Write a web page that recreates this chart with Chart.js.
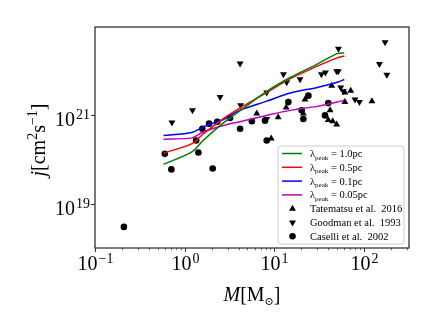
<!DOCTYPE html>
<html>
<head>
<meta charset="utf-8">
<script src="https://cdn.jsdelivr.net/npm/chart.js@4.4.0/dist/chart.umd.min.js"></script>
<style>
  html, body { margin: 0; padding: 0; background: #fff; }
  #grafico { display: block; }
</style>
</head>
<body>
<canvas id="grafico" width="436" height="327"></canvas>
<script>
// curvas do modelo (massa em Msun, j em cm^2 s^-1)
const massaModelo = [0.58, 1.2, 1.6, 2.7, 4.1, 8.2, 15, 30, 50, 60];
const jPeak10 = [7.8e19, 1.5e20, 2.7e20, 6.8e20, 1.26e21, 3.5e21, 7.2e21, 1.45e22, 2.5e22, 2.6e22];
const jPeak05 = [1.4e20, 2.3e20, 3.8e20, 8.5e20, 1.45e21, 3.3e21, 6.8e21, 1.3e22, 2.0e22, 2.2e22];
const jPeak01 = [3.5e20, 4.1e20, 5.5e20, 8.1e20, 1.3e21, 2.1e21, 3.2e21, 4.3e21, 5.6e21, 6.5e21];
const jPeak005 = [2.9e20, 3.1e20, 4.2e20, 5.9e20, 7.2e20, 1.0e21, 1.3e21, 1.6e21, 2.0e21, 2.2e21];

// observacoes
const tatematsuM = [6.35, 9.2, 11.0, 13.5, 21, 21.9, 39.8, 41.7, 43.5, 44.6, 49.4, 61, 61, 70.8, 122];
const tatematsuJ = [1.1e21, 3.0e20, 9.1e20, 1.5e21, 1.1e21, 2.3e21, 7.9e20, 1.3e21, 4.7e21, 7.4e20, 6.2e20, 3.3e21, 2.0e21, 3.6e21, 2.1e21];

const goodmanM = [0.72, 1.22, 2.48, 4.2, 4.14, 8.2, 8.2, 12.6, 13.7, 19.3, 33.4, 37, 49.4, 51.5, 51.7, 54.8, 58.6, 79, 88.5, 148, 171, 179];
const goodmanJ = [6.9e20, 1.3e21, 2.6e21, 1.7e21, 1.5e22, 8.3e20, 3.3e21, 8.5e21, 5.6e21, 6.6e21, 8.5e21, 9.3e21, 1.0e22, 1.0e22, 3.2e22, 4.3e21, 3.5e21, 2.3e21, 2.0e21, 1.45e22, 4.5e22, 8.3e21];

const caselliM = [0.21, 0.60, 0.71, 1.34, 1.42, 1.57, 1.87, 2.05, 2.31, 3.2, 4.14, 5.6, 7.85, 8.2, 14.3, 20.1, 21, 23.9, 36.6, 39.8];
const caselliJ = [3.0e18, 1.35e20, 6.0e19, 2.7e20, 1.45e20, 5.0e20, 6.5e20, 6.3e19, 7.2e20, 8.7e20, 5.0e20, 7.4e20, 7.6e20, 2.7e20, 2.0e21, 1.3e21, 8.3e20, 2.8e21, 1.0e21, 1.9e21];

// ticks
const decadasX = [0.1, 1, 10, 100];
const menoresX = [0.2, 0.3, 0.4, 0.5, 0.6, 0.7, 0.8, 0.9, 2, 3, 4, 5, 6, 7, 8, 9, 20, 30, 40, 50, 60, 70, 80, 90, 200, 300];
const decadasY = [1e19, 1e21];

const paleta = {
    verde: '#008000',
    vermelho: '#ff0000',
    azul: '#0000ff',
    magenta: '#bf00bf',
    preto: '#000000'
};

const fonte = "'Liberation Serif', 'DejaVu Serif', serif";

function pares(xs, ys) {
    return xs.map((x, i) => ({ x: x, y: ys[i] }));
}

function expoente(v) {
    const e = Math.round(Math.log10(v));
    return e < 0 ? '\u2212' + (-e) : String(e);
}

function potencia(ctx, exp, x, y, alinhar) {
    ctx.font = '20px ' + fonte;
    const wb = ctx.measureText('10').width;
    ctx.font = '14px ' + fonte;
    const we = ctx.measureText(exp).width;
    const x0 = alinhar === 'right' ? x - wb - we - 1 : x - (wb + we + 1) / 2;
    ctx.textAlign = 'left';
    ctx.textBaseline = 'alphabetic';
    ctx.font = '20px ' + fonte;
    ctx.fillText('10', x0, y);
    ctx.font = '14px ' + fonte;
    ctx.fillText(exp, x0 + wb + 1, y - 7);
}

// escreve pedacos de texto com fontes diferentes
function pedacos(ctx, partes, x, y) {
    let cx = x;
    partes.forEach(p => {
        ctx.font = p.f;
        ctx.fillText(p.t, cx, y + (p.dy || 0));
        cx += ctx.measureText(p.t).width;
    });
    return cx - x;
}

function largura(ctx, partes) {
    let w = 0;
    partes.forEach(p => { ctx.font = p.f; w += ctx.measureText(p.t).width; });
    return w;
}

const decoracao = {
    id: 'decoracao',
    afterDraw(chart) {
        const ctx = chart.ctx;
        const a = chart.chartArea;
        const sx = chart.scales.x;
        const sy = chart.scales.y;
        ctx.save();
        ctx.fillStyle = '#000';
        ctx.strokeStyle = '#333';

        // moldura
        ctx.lineWidth = 1.3;
        ctx.strokeRect(a.left, a.top, a.right - a.left, a.bottom - a.top);

        // ticks x
        ctx.lineWidth = 1;
        decadasX.forEach(v => {
            const px = Math.round(sx.getPixelForValue(v)) + 0.5;
            ctx.beginPath(); ctx.moveTo(px, a.bottom); ctx.lineTo(px, a.bottom + 4); ctx.stroke();
            potencia(ctx, expoente(v), px, a.bottom + 22, 'center');
        });
        ctx.lineWidth = 0.7;
        menoresX.forEach(v => {
            const px = Math.round(sx.getPixelForValue(v)) + 0.5;
            ctx.beginPath(); ctx.moveTo(px, a.bottom); ctx.lineTo(px, a.bottom + 2.2); ctx.stroke();
        });
        // ticks y
        ctx.lineWidth = 1;
        decadasY.forEach(v => {
            const py = Math.round(sy.getPixelForValue(v)) + 0.5;
            ctx.beginPath(); ctx.moveTo(a.left, py); ctx.lineTo(a.left - 4, py); ctx.stroke();
            potencia(ctx, expoente(v), a.left - 5, py + 10, 'right');
        });

        // titulos dos eixos
        ctx.textAlign = 'left';
        ctx.textBaseline = 'alphabetic';
        const tituloX = [
            { t: 'M', f: 'italic 20px ' + fonte },
            { t: '[M', f: '20px ' + fonte },
            { t: '\u2299', f: '11px ' + fonte, dy: 4 },
            { t: ']', f: '20px ' + fonte }
        ];
        const wx = largura(ctx, tituloX);
        pedacos(ctx, tituloX, (a.left + a.right) / 2 - wx / 2, 301);

        const tituloY = [
            { t: 'j', f: 'italic 20px ' + fonte },
            { t: '[cm', f: '20px ' + fonte },
            { t: '2', f: '14px ' + fonte, dy: -8 },
            { t: 's', f: '20px ' + fonte },
            { t: '\u22121', f: '14px ' + fonte, dy: -8 },
            { t: ']', f: '20px ' + fonte }
        ];
        const wy = largura(ctx, tituloY);
        ctx.save();
        ctx.translate(45, 140);
        ctx.rotate(-Math.PI / 2);
        pedacos(ctx, tituloY, -wy / 2, 0);
        ctx.restore();

        // legenda
        const lx = 278, ly = 146, lw = 126, lh = 98;
        ctx.beginPath();
        ctx.roundRect(lx, ly, lw, lh, 3);
        ctx.fillStyle = 'rgba(255,255,255,0.85)';
        ctx.fill();
        ctx.strokeStyle = '#cccccc';
        ctx.lineWidth = 1;
        ctx.stroke();

        const passo = 13.8;
        chart.data.datasets.forEach((ds, i) => {
            const cy = ly + 7.5 + i * passo;
            ctx.fillStyle = '#000';
            if (ds.showLine) {
                ctx.strokeStyle = ds.borderColor;
                ctx.lineWidth = 1.5;
                ctx.beginPath(); ctx.moveTo(282, cy); ctx.lineTo(302, cy); ctx.stroke();
                ctx.fillStyle = '#000';
                pedacos(ctx, [
                    { t: '\u03bb', f: '10.5px ' + fonte },
                    { t: 'peak', f: '7px ' + fonte, dy: 2.5 },
                    { t: ' = ' + ds.label, f: '10.5px ' + fonte }
                ], 310, cy + 3.5);
            } else {
                ctx.fillStyle = ds.backgroundColor;
                ctx.strokeStyle = ds.borderColor;
                Chart.helpers.drawPoint(ctx, {
                    pointStyle: ds.pointStyle,
                    rotation: ds.rotation || 0,
                    radius: ds.pointRadius,
                    borderWidth: 0
                }, 292.5, cy);
                ctx.fillStyle = '#000';
                pedacos(ctx, [{ t: ds.label, f: '10.5px ' + fonte }], 310, cy + 3.5);
            }
        });
        ctx.restore();
    }
};

const linha = { showLine: true, borderWidth: 1.5, pointRadius: 0, tension: 0.3 };
const marca = { borderWidth: 0, backgroundColor: paleta.preto, borderColor: paleta.preto };

new Chart(document.getElementById('grafico'), {
    type: 'scatter',
    data: {
        datasets: [
            { ...linha, label: '1.0pc', data: pares(massaModelo, jPeak10), borderColor: paleta.verde },
            { ...linha, label: '0.5pc', data: pares(massaModelo, jPeak05), borderColor: paleta.vermelho },
            { ...linha, label: '0.1pc', data: pares(massaModelo, jPeak01), borderColor: paleta.azul },
            { ...linha, label: '0.05pc', data: pares(massaModelo, jPeak005), borderColor: paleta.magenta },
            { ...marca, label: 'Tatematsu et al.  2016', data: pares(tatematsuM, tatematsuJ), pointStyle: 'triangle', pointRadius: 4 },
            { ...marca, label: 'Goodman et al.  1993', data: pares(goodmanM, goodmanJ), pointStyle: 'triangle', rotation: 180, pointRotation: 180, pointRadius: 4 },
            { ...marca, label: 'Caselli et al.  2002', data: pares(caselliM, caselliJ), pointStyle: 'circle', pointRadius: 3.3 }
        ]
    },
    options: {
        responsive: false,
        animation: false,
        events: [],
        layout: { padding: { top: 27, right: 27, left: 0, bottom: 0 } },
        plugins: {
            legend: { display: false },
            tooltip: { enabled: false }
        },
        scales: {
            x: {
                type: 'logarithmic',
                min: 0.1,
                max: 316,
                grid: { display: false },
                border: { display: false },
                ticks: { display: false },
                afterFit(s) { s.height = 79; }
            },
            y: {
                type: 'logarithmic',
                min: 1e18,
                max: 1e23,
                grid: { display: false },
                border: { display: false },
                ticks: { display: false },
                afterFit(s) { s.width = 95; }
            }
        }
    },
    plugins: [decoracao]
});
</script>
</body>
</html>
